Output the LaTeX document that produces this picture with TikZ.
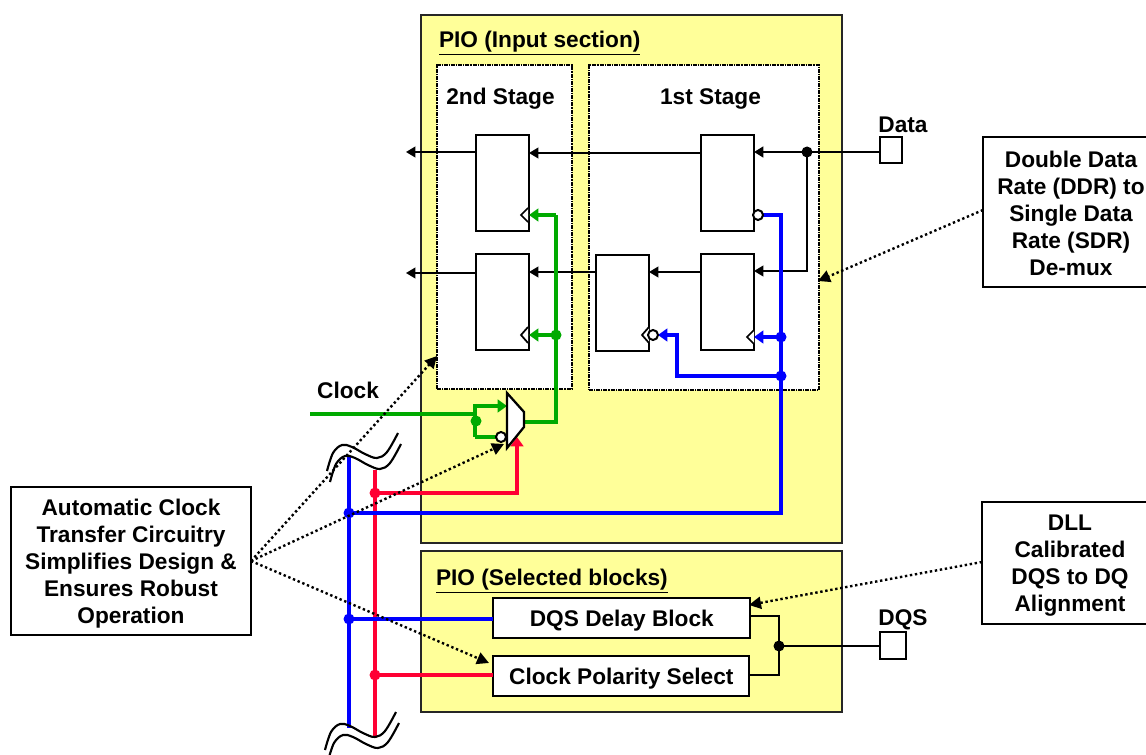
\documentclass[tikz,border=0pt]{standalone}
\usepackage{fontspec}
\setmainfont{Liberation Sans}
\usetikzlibrary{arrows.meta,calc}
\definecolor{pio}{HTML}{FFFF99}
\definecolor{gline}{HTML}{00AA00}
\definecolor{bline}{HTML}{0000FF}
\definecolor{rline}{HTML}{FF0033}
\newcommand{\pxu}{0.75pt}
\newcommand{\wavecurve}{\draw[waveline] plot[smooth,tension=0.6] coordinates {(327,471) (333,453) (342,445) (352,447) (365,454) (377,458) (387,452) (398,433)};}
\newcommand{\dropt}[2]{\raisebox{-#1}[\height][\depth]{\begin{tabular}{@{}c@{}}#2\end{tabular}}}
\tikzset{
  every node/.append style={outer sep=0pt},
  lbl/.style={font=\fontsize{17}{20.25}\selectfont\bfseries,inner sep=0pt,align=center},
  piobox/.style={draw=black!85,line width=1.2pt,fill=pio,anchor=north west,inner sep=0pt},
  stagebox/.style={draw=black,line width=1.3pt,fill=white,anchor=north west,inner sep=0pt,dash pattern=on 3pt off 0.8pt on 0.8pt off 0.8pt},
  ffbox/.style={draw=black,line width=1.5pt,fill=white,anchor=north west,inner sep=0pt,minimum width=53*\pxu,minimum height=96*\pxu},
  pinbox/.style={draw=black,line width=1.5pt,fill=white,anchor=north west,inner sep=0pt},
  textbox/.style={draw=black,line width=1.4pt,fill=white,inner sep=0pt,font=\fontsize{17}{20.25}\selectfont\bfseries},
  dot/.style={circle,inner sep=0pt,minimum size=11*\pxu},
  kdot/.style={dot,fill=black},
  gdot/.style={dot,fill=gline},
  bdot/.style={dot,fill=bline},
  rdot/.style={dot,fill=rline},
  bubble/.style={circle,draw=black,line width=1.5pt,fill=white,inner sep=0pt,minimum size=10*\pxu},
  sig/.style={draw=black,line width=1.4pt},
  sigtip/.style={sig,-{Triangle[length=7pt,width=8pt]}},
  gsig/.style={draw=gline,line width=3pt},
  bsig/.style={draw=bline,line width=3pt},
  rsig/.style={draw=rline,line width=3pt},
  gtip/.style={gsig,-{Triangle[length=7pt,width=9.5pt]}},
  btip/.style={bsig,-{Triangle[length=7pt,width=9.5pt]}},
  rtip/.style={rsig,-{Triangle[length=7pt,width=9.5pt]}},
  callout/.style={draw=black,line width=1.8pt,dash pattern=on 1.8pt off 2pt,-{Triangle[length=9pt,width=9pt,sep=0pt]}},
  clk/.style={draw=black,line width=1.3pt},
  waveline/.style={draw=black,line width=1.6pt},
}
\begin{document}
\begin{tikzpicture}[x=0.75pt,y=-0.75pt]
\useasboundingbox (0,0) rectangle (1146,755);
\clip (0,0) rectangle (1146,755);

% sections
\node[piobox,minimum width=421*\pxu,minimum height=528*\pxu] (pioin) at (421,15) {};
\node[piobox,minimum width=421*\pxu,minimum height=161*\pxu] (piosel) at (421,551) {};
\node[stagebox,minimum width=135*\pxu,minimum height=324*\pxu] (stageb) at (437,65) {};
\node[stagebox,minimum width=230*\pxu,minimum height=325*\pxu] (stagea) at (589,65) {};

\node[lbl,anchor=west] (tin) at (439,43) {\underline{PIO (Input section)}};
\node[lbl,anchor=west] (tsel) at (436,581) {\underline{PIO (Selected blocks)}};
\node[lbl] (t2) at (500.5,99) {2nd Stage};
\node[lbl] (t1) at (710.5,99) {1st Stage};
\node[lbl] (tdata) at (903,125) {Data};
\node[lbl] (tdqs) at (903,620) {DQS};
\node[lbl] (tclock) at (348,390) {Clock};

% flip-flops
\node[ffbox] (s2a) at (476,135) {};
\node[ffbox] (s2b) at (476,254) {};
\node[ffbox] (s1a) at (701,135) {};
\node[ffbox] (s1b) at (701,254) {};
\node[ffbox] (s1c) at (596,255) {};

% pins and blocks
\node[pinbox,minimum width=22*\pxu,minimum height=26*\pxu] (data) at (880,137) {};
\node[pinbox,minimum width=26*\pxu,minimum height=27*\pxu] (dqs) at (880,632) {};
\node[textbox,anchor=north west,minimum width=257*\pxu,minimum height=40*\pxu] (delay) at (493,598) {\hspace*{0.5pt}\dropt{2.25pt}{DQS Delay Block}};
\node[textbox,anchor=north west,minimum width=256*\pxu,minimum height=40*\pxu] (polar) at (493,656) {\hspace*{0.5pt}\dropt{2.25pt}{Clock Polarity Select}};

% callout boxes
\node[textbox,anchor=north west,minimum width=176*\pxu,minimum height=150*\pxu] (cddr) at (983,137) {\dropt{3pt}{Double Data\\Rate (DDR) to\\Single Data\\Rate (SDR)\\De-mux}};
\node[textbox,anchor=north west,minimum width=176*\pxu,minimum height=122*\pxu] (cdll) at (982,502) {\dropt{2.25pt}{DLL\\Calibrated\\DQS to DQ\\Alignment}};
\node[textbox,anchor=north west,minimum width=240*\pxu,minimum height=148*\pxu] (cauto) at (11,487) {\dropt{2.6pt}{Automatic Clock\\Transfer Circuitry\\Simplifies Design \&\\Ensures Robust\\Operation}};

% junctions
\node[kdot] (jd) at (807,152) {};
\node[kdot] (jq) at (779,646) {};
\node[gdot] (jg1) at (556,335) {};
\node[gdot] (jg2) at (476,421) {};
\node[bdot] (jb1) at (781,337) {};
\node[bdot] (jb2) at (781,376) {};
\node[bdot] (jb3) at (349,513) {};
\node[bdot] (jb4) at (349,619) {};
\node[rdot] (jr1) at (375,493) {};
\node[rdot] (jr2) at (375,675) {};

% free ends
\coordinate (o1) at (406,152);
\coordinate (o2) at (406,273);
\coordinate (ck) at (310,414);
\coordinate (btop) at (349,456);
\coordinate (bbot) at (349,728);
\coordinate (rtop) at (375,470);
\coordinate (rbot) at (375,738);
\coordinate (mt) at (507,393);
\coordinate (mr1) at (524,412);
\coordinate (mr2) at (524,427);
\coordinate (mb) at (507,448);
\coordinate (mo) at (524,422);
\coordinate (min1) at (507,406);
\coordinate (mred) at (517,437);
\coordinate (g2) at (556,215);
\coordinate (b1) at (781,215);
\coordinate (b2) at (677,376);
\coordinate (b3) at (677,335);
\coordinate (g3) at (475,406);
\coordinate (g4) at (475,437);
\coordinate (q1) at (779,616);
\coordinate (q2) at (779,675);
\coordinate (tg1) at (437,356);
\coordinate (tg2) at (504,444);
\coordinate (tg3) at (489,663);
\coordinate (tg4) at (818,281);
\coordinate (tg5) at (749,605);
\coordinate (fddr) at (983,210);
\coordinate (fdll) at (982,562);

% wires, black
\draw[sig] (data.west |- jd) -- (jd.center);
\draw[sigtip,line width=1.9pt] (jd.center) -- (s1a.east |- jd);
\draw[sigtip] (jd.center) -- (807,271) -- (s1b.east |- 0,271);
\draw[sigtip] (s1b.west |- 0,272) -- (s1c.east |- 0,272);
\draw[sigtip] (s1a.west |- 0,153) -- (s2a.east |- 0,153);
\draw[sigtip] (s1c.west |- 0,272) -- (s2b.east |- 0,272);
\draw[sigtip] (s2a.west |- o1) -- (o1);
\draw[sigtip] (s2b.west |- o2) -- (o2);
\draw[sig] (dqs.west |- jq) -- (jq.center);
\draw[sig] (delay.east |- q1) -- (q1) -- (q2) -- (polar.east |- q2);

% clock triangles
\draw[clk,fill=white] (528,208) -- (521,215) -- (528,222);
\draw[clk,fill=white] (528,327) -- (521,335) -- (528,343);
\draw[clk,fill=white] (649,327) -- (642,335) -- (649,343);
\draw[clk,fill=white] (754,330) -- (747,337) -- (754,344);

% vertical rails
\draw[bsig] (btop) -- (bbot);
\draw[rsig] (rtop) -- (rbot);
\wavecurve
\begin{scope}[shift={(3,11)}]\wavecurve\end{scope}
\begin{scope}[shift={(-2,279)}]\wavecurve\end{scope}
\begin{scope}[shift={(1,290)}]\wavecurve\end{scope}

% green
\draw[gsig] (ck) -- (jg2.center |- ck);
\draw[gtip] (g4) -- (g3) -- (min1);
\draw[gsig] (g4) -- (497,437);
\draw[gsig] (mo) -- (mo -| g2) -- (g2);
\draw[gtip] (g2) -- (s2a.east |- g2);
\draw[gtip] (jg1.center) -- (s2b.east |- jg1);

% blue
\draw[bsig] (jb3.center) -- (jb3 -| b1) -- (b1) -- (762,215);
\draw[btip] (jb1.center) -- (s1b.east |- jb1);
\draw[btip] (jb2.center) -- (b2) -- (b3) -- (658,335);
\draw[bsig] (jb4.center) -- (delay.west |- jb4);

% red
\draw[rtip] (jr1.center) -- (jr1 -| mred) -- (mred);
\draw[rsig] (jr2.center) -- (polar.west |- jr2);

% mux and bubbles
\draw[draw=black,line width=1.7pt,fill=white,line join=miter] (mt) -- (mr1) -- (mr2) -- (mb) -- cycle;
\node[bubble] (bu1) at (501,437) {};
\node[bubble] (bu2) at (758,215) {};
\node[bubble] (bu3) at (653,335) {};

% callouts
\draw[callout] (cauto.east) -- (tg1);
\draw[callout] (cauto.east) -- (tg2);
\draw[callout] (cauto.east) -- (tg3);
\draw[callout] (fddr) -- (tg4);
\draw[callout] (fdll) -- (tg5);
\end{tikzpicture}
\end{document}
